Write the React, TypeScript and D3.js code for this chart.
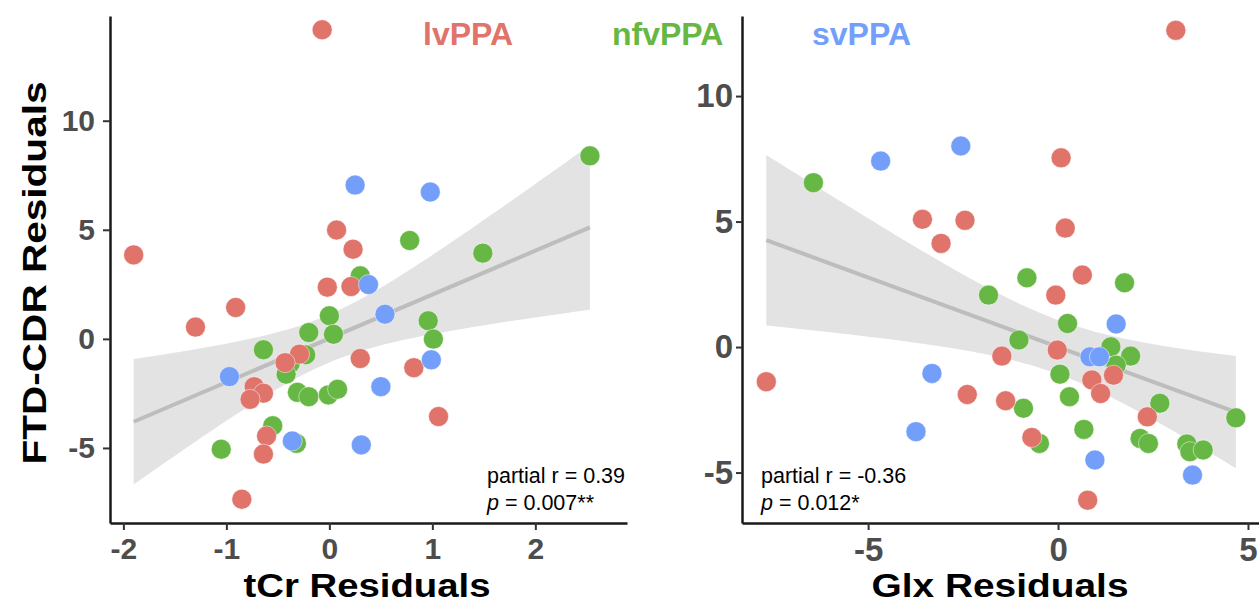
import React, { useEffect, useRef } from 'react'
import * as d3 from 'd3'

const groups = ['lvPPA', 'nfvPPA', 'svPPA']
const groupColors = ['#e0736a', '#67b745', '#739ffb']

// tCr panel, [x, y] residual pairs per group
const tcrLv = [
  [-0.07, 14.17], [0.07, 4.99], [0.23, 4.11], [-1.9, 3.85], [-0.02, 2.37], [0.21, 2.4],
  [-0.91, 1.44], [-1.3, 0.54], [0.82, -1.32], [0.3, -0.9], [-0.29, -0.7], [-0.43, -1.09],
  [-0.73, -2.19], [-0.64, -2.49], [-0.77, -2.77], [1.06, -3.56], [-0.61, -4.45],
  [-0.64, -5.28], [-0.85, -7.35],
]
const tcrNfv = [
  [0.78, 4.51], [0.3, 2.89], [0.0, 1.06], [-0.2, 0.29], [0.04, 0.21], [-0.64, -0.5],
  [0.96, 0.83], [1.01, -0.01], [-0.23, -0.73], [-0.38, -1.12], [-0.42, -1.62],
  [-0.31, -2.45], [-0.2, -2.65], [-0.01, -2.57], [0.08, -2.31], [-0.55, -3.98],
  [-0.32, -4.79], [-1.05, -5.06], [2.53, 8.39], [1.49, 3.93],
]
const tcrSv = [
  [0.25, 7.05], [0.98, 6.73], [0.38, 2.49], [0.54, 1.13], [0.99, -0.96], [-0.97, -1.73],
  [0.5, -2.19], [-0.36, -4.68], [0.31, -4.86],
]

// Glx panel
const glxLv = [
  [-3.57, 5.09], [-2.45, 5.05], [-3.08, 4.13], [-7.68, -1.38], [-2.39, -1.89], [3.1, 12.62],
  [0.08, 7.54], [0.19, 4.74], [0.64, 2.87], [-0.06, 2.07], [-1.48, -0.36], [-0.02, -0.12],
  [1.46, -1.12], [0.89, -1.31], [1.12, -1.85], [-1.38, -2.14], [2.35, -2.78],
  [-0.69, -3.6], [0.78, -6.1],
]
const glxNfv = [
  [-6.44, 6.55], [-1.83, 2.07], [-0.82, 2.76], [1.75, 2.56], [0.25, 0.94], [-1.03, 0.28],
  [1.39, 0.01], [1.91, -0.36], [1.53, -0.72], [0.05, -1.08], [0.3, -1.98], [-0.91, -2.44],
  [2.68, -2.24], [4.68, -2.82], [0.68, -3.28], [-0.49, -3.84], [2.16, -3.64],
  [2.38, -3.84], [3.39, -3.86], [3.47, -4.17], [3.82, -4.1],
]
const glxSv = [
  [-4.67, 7.41], [-2.56, 8.01], [-3.32, -1.05], [-3.74, -3.37], [1.53, 0.92],
  [0.84, -0.39], [1.09, -0.39], [0.97, -4.5], [3.54, -5.1],
]

const tcrXTicks = [-2, -1, 0, 1, 2]
const glxXTicks = [-5, 0, 5]
const yTicks = [-5, 0, 5, 10]

const tcrStats = ['partial r = 0.39', '0.007**']
const glxStats = ['partial r = -0.36', '0.012*']

const T_CRIT = 2.013 // t(0.975, df ~ 46)
const FONT = '"Liberation Sans", Arial, Helvetica, sans-serif'

function lmFit(pts) {
  const n = pts.length
  const mx = d3.mean(pts, d => d[0])
  const my = d3.mean(pts, d => d[1])
  const sxx = d3.sum(pts, d => (d[0] - mx) ** 2)
  const sxy = d3.sum(pts, d => (d[0] - mx) * (d[1] - my))
  const b = sxy / sxx
  const a = my - b * mx
  const s2 = d3.sum(pts, d => (d[1] - a - b * d[0]) ** 2) / (n - 2)
  const se = x => Math.sqrt(s2 * (1 / n + (x - mx) ** 2 / sxx))
  return { a, b, se }
}

const App = () => {
  const ref = useRef(null)

  useEffect(() => {
    const svg = d3.select(ref.current)
    svg.selectAll('*').remove()

    const panels = [
      {
        sets: [tcrNfv, tcrLv, tcrSv], order: [1, 0, 2],
        xDomain: [-2.13, 2.89], yDomain: [-8.44, 14.8],
        xRange: [110, 627], yRange: [523, 16],
        xTicks: tcrXTicks, tickFont: 30, yTickSize: 7, yPad: 8,
        stats: tcrStats, statsX: 487, title: 'tCr Residuals', titleX: 367, titleLen: 247,
      },
      {
        sets: [glxNfv, glxLv, glxSv], order: [1, 0, 2],
        xDomain: [-8.32, 5.29], yDomain: [-7.01, 13.19],
        xRange: [742, 1259], yRange: [523, 16],
        xTicks: glxXTicks, tickFont: 33, yTickSize: 6, yPad: 3,
        stats: glxStats, statsX: 761, title: 'Glx Residuals', titleX: 1000, titleLen: 257,
      },
    ]

    panels.forEach(p => {
      const x = d3.scaleLinear().domain(p.xDomain).range(p.xRange)
      const y = d3.scaleLinear().domain(p.yDomain).range(p.yRange)
      const all = p.sets.flat()
      const fit = lmFit(all)
      const [x0, x1] = d3.extent(all, d => d[0])
      const grid = d3.range(0, 81).map(i => x0 + (x1 - x0) * i / 80)

      const band = d3.area()
        .x(d => x(d))
        .y0(d => y(fit.a + fit.b * d - T_CRIT * fit.se(d)))
        .y1(d => y(fit.a + fit.b * d + T_CRIT * fit.se(d)))
      svg.append('path').datum(grid).attr('d', band).attr('fill', '#e3e3e3')

      svg.append('line')
        .attr('x1', x(x0)).attr('y1', y(fit.a + fit.b * x0))
        .attr('x2', x(x1)).attr('y2', y(fit.a + fit.b * x1))
        .attr('stroke', '#bdbdbd').attr('stroke-width', 4)

      p.sets.forEach((set, i) => {
        svg.append('g').selectAll('circle')
          .data(set)
          .enter().append('circle')
          .attr('cx', d => x(d[0]))
          .attr('cy', d => y(d[1]))
          .attr('r', 10)
          .attr('fill', groupColors[p.order[i]])
          .attr('stroke', 'rgba(255,255,255,0.6)')
          .attr('stroke-width', 0.8)
      })

      const xAxis = svg.append('g')
        .attr('transform', 'translate(0,' + p.yRange[0] + ')')
        .call(d3.axisBottom(x).tickValues(p.xTicks).tickSize(7).tickPadding(8)
          .tickSizeOuter(0).tickFormat(d => String(d)))
      const yAxis = svg.append('g')
        .attr('transform', 'translate(' + p.xRange[0] + ',0)')
        .call(d3.axisLeft(y).tickValues(yTicks).tickSize(p.yTickSize).tickPadding(p.yPad)
          .tickSizeOuter(0).tickFormat(d => String(d)))

      ;[xAxis, yAxis].forEach(ax => {
        ax.select('.domain').attr('stroke', '#1a1a1a').attr('stroke-width', 2.5)
        ax.selectAll('.tick line').attr('stroke', '#333').attr('stroke-width', 2)
        ax.selectAll('.tick text')
          .attr('fill', '#4d4d4d')
          .style('font-family', FONT)
          .style('font-weight', 'bold')
          .style('font-size', p.tickFont + 'px')
      })

      const st = svg.append('g').style('font-family', FONT).style('font-size', '21.5px')
      st.append('text').attr('x', p.statsX).attr('y', 483).text(p.stats[0])
      const t2 = st.append('text').attr('x', p.statsX).attr('y', 510)
      t2.append('tspan').style('font-style', 'italic').text('p')
      t2.append('tspan').text(' = ' + p.stats[1])

      svg.append('text')
        .attr('x', p.titleX).attr('y', 597)
        .attr('text-anchor', 'middle')
        .attr('textLength', p.titleLen).attr('lengthAdjust', 'spacingAndGlyphs')
        .style('font-family', FONT).style('font-weight', 'bold').style('font-size', '33px')
        .text(p.title)
    })

    svg.append('text')
      .attr('transform', 'translate(46,273) rotate(-90)')
      .attr('text-anchor', 'middle')
      .attr('textLength', 383).attr('lengthAdjust', 'spacingAndGlyphs')
      .style('font-family', FONT).style('font-weight', 'bold').style('font-size', '34px')
      .text('FTD-CDR Residuals')

    const legendX = [423, 612, 812]
    svg.append('g').selectAll('text')
      .data(groups)
      .enter().append('text')
      .attr('x', (d, i) => legendX[i])
      .attr('y', 45)
      .attr('fill', (d, i) => groupColors[i])
      .style('font-family', FONT).style('font-weight', 'bold').style('font-size', '32px')
      .text(d => d)
  }, [])

  return (
    <svg ref={ref} width={1259} height={605}
      style={{ position: 'absolute', left: 0, top: 0, background: '#fff' }} />
  )
}

export default App
